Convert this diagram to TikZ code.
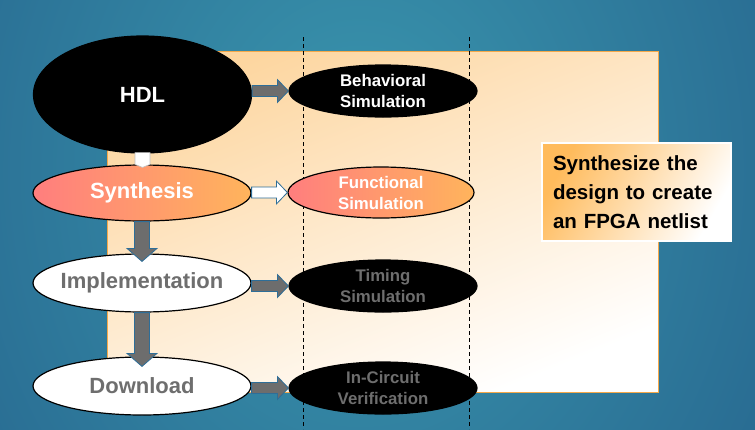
\documentclass[tikz,border=0pt]{standalone}
\usepackage{fontspec}
\setmainfont{Liberation Sans}
\usetikzlibrary{shapes.geometric,calc}

\definecolor{bgdark}{HTML}{1B4A7C}
\definecolor{bgteal}{HTML}{3A96AE}
\definecolor{panelorange}{HTML}{FDD6A0}
\definecolor{panelline}{HTML}{F5A94A}
\definecolor{notetop}{HTML}{FFBB5C}
\definecolor{pinkish}{HTML}{FF7E7E}
\definecolor{orangeish}{HTML}{FFB45C}
\definecolor{arrowgrey}{HTML}{6D6D6D}
\definecolor{arrowblue}{HTML}{2E6E98}
\definecolor{txtgrey}{HTML}{6E6E6E}

% block arrow from the east side of #2 to the west side of #3
\newcommand{\harrow}[3]{%
  \draw[blockarrow, fill=#1] let \p1=(#2.east), \p2=(#3.west) in
    (\x1,\y2+5.5pt) -- (\x2-11pt,\y2+5.5pt) -- (\x2-11pt,\y2+11.5pt) -- (\x2,\y2)
    -- (\x2-11pt,\y2-11.5pt) -- (\x2-11pt,\y2-5.5pt) -- (\x1,\y2-5.5pt) -- cycle;}

% block arrow from the south of #2 down into the top of #3
\newcommand{\varrow}[4]{%
  \draw[blockarrow, fill=#1] let \p1=(#2.south), \p2=(#3.north) in
    (\x1-7.5pt,\y1) -- (\x1-7.5pt,\y2-#4+13pt) -- (\x1-15pt,\y2-#4+13pt) -- (\x1,\y2-#4)
    -- (\x1+15pt,\y2-#4+13pt) -- (\x1+7.5pt,\y2-#4+13pt) -- (\x1+7.5pt,\y1) -- cycle;}

\begin{document}
\begin{tikzpicture}[x=1pt, y=-1pt,
    bigstep/.style={ellipse, draw=black, line width=1.2pt, inner sep=0pt,
      inner xsep=-30pt, minimum width=218pt, minimum height=57pt,
      font=\fontsize{22}{26}\selectfont\bfseries},
    simstep/.style={ellipse, draw=black, line width=1.2pt, inner sep=0pt,
      minimum width=188pt, minimum height=52pt, align=center,
      font=\fontsize{16.8}{21}\selectfont\bfseries},
    hotfill/.style={left color=pinkish, right color=orangeish},
    blockarrow/.style={draw=arrowblue, line width=0.8pt, line join=miter},
    divider/.style={dashed, line width=0.8pt, dash pattern=on 4pt off 3pt},
    note/.style={draw=white, line width=2pt, top color=notetop, bottom color=white,
      shading angle=60, text width=167pt, inner xsep=11pt, minimum height=98pt,
      align=left, font=\fontsize{20.5}{29}\selectfont\bfseries}]

	% background
	\fill[bgdark] (0,0) rectangle (755,429);
	\begin{scope}
		\clip (0,0) rectangle (755,429);
		\shade[inner color=bgteal, outer color=bgdark] (360,170) ellipse [x radius=820pt, y radius=1000pt];
	\end{scope}

	% panel
	\draw[draw=panelline, line width=1pt, top color=panelorange, bottom color=white, shading angle=22]
		(107,51) rectangle (658,392);

	\draw[divider] (303,37) -- (303,429);
	\draw[divider] (469,37) -- (469,429);

	% flow
	\node[bigstep, fill=black, text=white, minimum height=117pt] (hdl) at (142.5,94.5) {HDL};
	\node[bigstep, hotfill, text=white, minimum height=56pt] (synth) at (142,193) {Synthesis};
	\node[bigstep, fill=white, text=txtgrey, minimum height=58pt] (impl) at (142,283) {Implementation};
	\node[bigstep, fill=white, text=txtgrey, minimum height=58pt] (down) at (142,386) {Download};

	% simulation
	\node[simstep, fill=black, text=white] (behav) at (383,91) {Behavioral\\Simulation};
	\node[simstep, hotfill, text=white, minimum width=186pt, minimum height=51pt] (func) at (381,192.5) {Functional\\Simulation};
	\node[simstep, fill=black, text=txtgrey] (timing) at (383,286) {Timing\\Simulation};
	\node[simstep, fill=black, text=txtgrey] (incirc) at (383,388) {In-Circuit\\Verification};

	\node[note] (note) at (636.5,192) {Synthesize the\\design to create\\an FPGA netlist};

	% arrows
	\draw[fill=white, draw=gray!50, line width=0.6pt] let \p1=(hdl.south), \p2=(synth.north) in
		(\x1-7.5pt,\y1+1pt) -- (\x1-7.5pt,\y2) -- (\x1,\y2-3pt) -- (\x1+7.5pt,\y2) -- (\x1+7.5pt,\y1+1pt) -- cycle;
	\varrow{arrowgrey}{synth}{impl}{8pt}
	\varrow{arrowgrey}{impl}{down}{10pt}

	\harrow{arrowgrey}{hdl}{behav}
	\harrow{white}{synth}{func}
	\harrow{arrowgrey}{impl}{timing}
	\harrow{arrowgrey}{down}{incirc}

\end{tikzpicture}
\end{document}
